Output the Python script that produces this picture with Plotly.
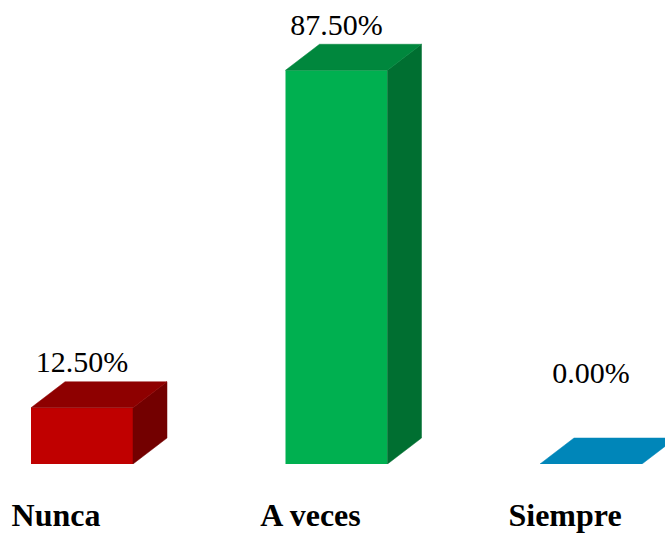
import plotly.graph_objects as go

categories = ["Nunca", "A veces", "Siempre"]
values = [12.5, 87.5, 0.0]
labels = ["12.50%", "87.50%", "0.00%"]
front_colors = ["#C00000", "#00B050", "#0086B9"]
top_colors = ["#8E0000", "#00873D", "#0086B9"]
side_colors = ["#730000", "#006F31", "#006A92"]

W, H = 665, 535
BOT = 71
px_per_unit_x = 254.5
px_per_pct = 4.5
x_left = -82 / px_per_unit_x
x_right = (W - 82) / px_per_unit_x
y_top = (H - BOT) / px_per_pct

bw = 102 / px_per_unit_x
dx = 34 / px_per_unit_x
dy = 26 / px_per_pct

xs = list(range(len(categories)))
fig = go.Figure()

fig.add_trace(go.Bar(x=xs, y=values, width=bw, marker=dict(color=front_colors, line=dict(width=0)),
                     hoverinfo="skip", showlegend=False))

for i, v in enumerate(values):
    x0, x1 = i - bw / 2, i + bw / 2
    # side face
    if v > 0:
        fig.add_trace(go.Scatter(x=[x1, x1, x1 + dx, x1 + dx, x1], y=[0, v, v + dy, dy, 0],
                                 fill="toself", fillcolor=side_colors[i], mode="lines",
                                 line=dict(color=side_colors[i], width=0.5), showlegend=False, hoverinfo="skip"))
    # top face
    fig.add_trace(go.Scatter(x=[x0, x1, x1 + dx, x0 + dx, x0], y=[v, v, v + dy, v + dy, v],
                             fill="toself", fillcolor=top_colors[i], mode="lines",
                             line=dict(color=top_colors[i], width=0.5), showlegend=False, hoverinfo="skip"))

label_y = [max(v, 10) + 9.6 for v in values]
fig.add_trace(go.Scatter(x=[i + 0.0 for i in xs], y=label_y, text=labels, mode="text",
                         textfont=dict(family="Liberation Serif", size=30, color="black"),
                         showlegend=False, hoverinfo="skip", cliponaxis=False))

fig.update_layout(
    width=W, height=H,
    margin=dict(l=0, r=0, t=0, b=BOT),
    paper_bgcolor="white", plot_bgcolor="white",
    xaxis=dict(range=[x_left, x_right], showgrid=False, zeroline=False, showline=False,
               automargin=False,
               tickmode="array", tickvals=[i - 0.102 for i in xs], ticktext=categories,
               ticks="", ticklabelstandoff=29,
               tickfont=dict(family="Liberation Serif", size=32, color="black", weight="bold")),
    yaxis=dict(range=[0, y_top], showgrid=False, zeroline=False, showline=False,
               automargin=False, showticklabels=False, ticks=""),
)

fig.write_html("out.html")
